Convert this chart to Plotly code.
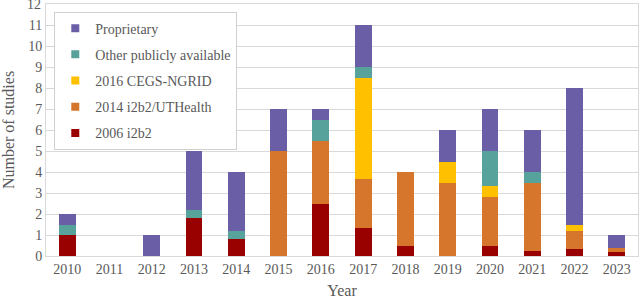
import plotly.graph_objects as go

years = ["2010", "2011", "2012", "2013", "2014", "2015", "2016", "2017",
         "2018", "2019", "2020", "2021", "2022", "2023"]
i2b2_2006 = [1.0, 0, 0, 1.83, 0.83, 0, 2.5, 1.33, 0.5, 0, 0.5, 0.25, 0.33, 0.2]
i2b2_2014 = [0, 0, 0, 0, 0, 5.0, 3.0, 2.34, 3.5, 3.5, 2.33, 3.25, 0.84, 0.2]
cegs_2016 = [0, 0, 0, 0, 0, 0, 0, 4.83, 0, 1.0, 0.5, 0, 0.33, 0]
other_pub = [0.5, 0, 0, 0.34, 0.34, 0, 1.0, 0.5, 0, 0, 1.67, 0.5, 0, 0]
proprietary = [0.5, 0, 1.0, 2.83, 2.83, 2.0, 0.5, 2.0, 0, 1.5, 2.0, 2.0, 6.5, 0.6]
y_max = 12

series = [
    ("2006 i2b2", i2b2_2006, "#990000"),
    ("2014 i2b2/UTHealth", i2b2_2014, "#D6762C"),
    ("2016 CEGS-NGRID", cegs_2016, "#FFC000"),
    ("Other publicly available", other_pub, "#57A39C"),
    ("Proprietary", proprietary, "#6A5FA6"),
]

fig = go.Figure()
n = len(series)
for i, (name, vals, color) in enumerate(series):
    fig.add_trace(go.Bar(x=years, y=vals, name=name, showlegend=False,
                         marker=dict(color=color, line=dict(width=0))))
# legend entries with small square symbols
for i, (name, vals, color) in enumerate(series):
    fig.add_trace(go.Scatter(x=[None], y=[None], mode="markers", name=name,
                             legendrank=n - i, legendgroup=name,
                             marker=dict(symbol="square", size=8, color=color)))

font_family = "Times New Roman"
grey = "#595959"
fig.update_layout(
    width=640, height=299,
    barmode="stack", bargap=0.6,
    plot_bgcolor="white", paper_bgcolor="white",
    margin=dict(l=46, r=2, t=4, b=43),
    font=dict(family=font_family, size=14, color=grey),
    legend=dict(
        x=0.014, y=0.97, xanchor="left", yanchor="top",
        traceorder="grouped", tracegroupgap=5,
        bgcolor="white", bordercolor="#d0d0d0", borderwidth=1,
        font=dict(family=font_family, size=14, color=grey),
        itemwidth=30,
    ),
    xaxis=dict(
        title=dict(text="Year", font=dict(size=16, color=grey)),
        showline=True, linecolor="#d9d9d9", mirror=True, automargin=False,
        tickfont=dict(size=14, color=grey), ticks="",
    ),
    yaxis=dict(
        title=dict(text="Number of studies", font=dict(size=16, color=grey)),
        range=[0, y_max], dtick=1, showgrid=True, gridcolor="#d9d9d9",
        showline=True, linecolor="#d9d9d9", mirror=True, automargin=False,
        tickfont=dict(size=14, color=grey), ticks="", zeroline=False,
    ),
)
# top tick label (plotly hides it because it touches the page edge)
fig.add_annotation(x=0, xref="paper", xanchor="right", xshift=-3,
                   y=y_max, yref="y", yanchor="middle",
                   text=str(y_max), showarrow=False,
                   font=dict(family=font_family, size=14, color=grey))

fig.write_html("out.html", config={"displayModeBar": False},
               post_script="document.body.style.margin='0';")
